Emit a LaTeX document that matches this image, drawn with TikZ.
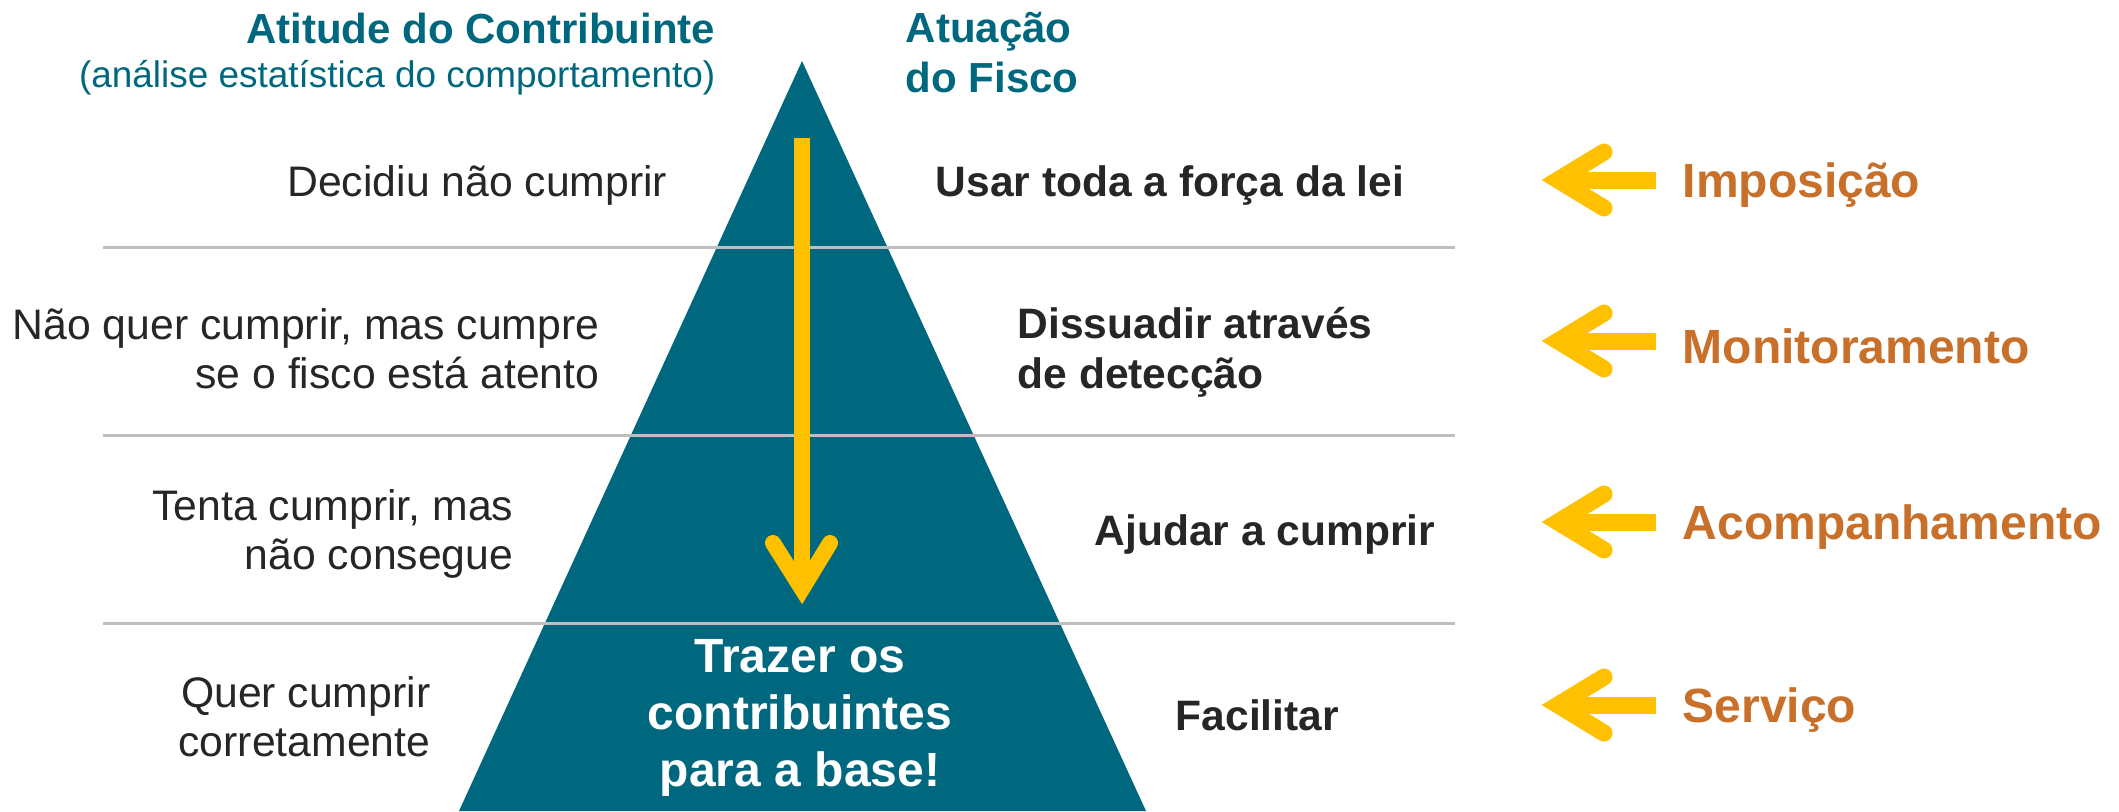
\documentclass[tikz,border=0pt]{standalone}
\usepackage{fontspec}
\setmainfont{Liberation Sans}
\usepackage{tikz}
\usetikzlibrary{positioning,calc}
\usepackage{xcolor}
\definecolor{fiscoteal}{HTML}{00687E}
\definecolor{arrowyellow}{HTML}{FFC000}
\definecolor{levelorange}{HTML}{C8702A}
\definecolor{textdark}{HTML}{262626}
\definecolor{linegray}{HTML}{BFBFBF}

\begin{document}
\begin{tikzpicture}[x=0.01cm,y=-0.01cm,
  attitude/.style={anchor=east, inner sep=0pt, align=right, text=textdark, font=\fontsize{12.15pt}{13.94pt}\selectfont},
  action/.style={anchor=west, inner sep=0pt, align=left, text=textdark, font=\bfseries\fontsize{12.1pt}{14.2pt}\selectfont},
  level/.style={anchor=west, inner sep=0pt, text=levelorange, font=\bfseries\fontsize{13.66pt}{16pt}\selectfont},
  header/.style={inner sep=0pt, text=fiscoteal, font=\bfseries\fontsize{11.95pt}{14.2pt}\selectfont},
  divider/.style={draw=linegray, line width=0.03cm},
  sidearrow/.style={draw=arrowyellow, line width=0.17cm}]
\useasboundingbox (0,0) rectangle (2119,811);

% pyramid
\coordinate (apex) at (802,61);
\coordinate (baseL) at (459,811);
\coordinate (baseR) at (1146,811);
\fill [fiscoteal] (apex) -- (baseL) -- (baseR) -- cycle;

% levels
\foreach \y/\n in {247/a,435/b,623/c} {
  \coordinate (div\n L) at (103,\y);
  \coordinate (div\n R) at (1455,\y);
  \draw [divider] (div\n L) -- (div\n R);
}

% arrow down the pyramid
\coordinate (shaftTop) at (802,138);
\coordinate (shaftTip) at (802,589);
\draw [arrowyellow, line width=0.16cm] (shaftTop) -- (shaftTip);
\draw [arrowyellow, line width=0.16cm, line cap=round, line join=miter] (773,543) -- (shaftTip) -- (830,543);

% headers
\node (attTitle) [header, anchor=east] at (716,28) {Atitude do Contribuinte};
\node (attSub) [header, anchor=east, font=\fontsize{10.5pt}{12pt}\selectfont] at (716,78) {(análise estatística do comportamento)};
\node (fisco) [header, anchor=west, align=left] at (905,53) {Atuação\\do Fisco};

% attitudes
\node (att1) [attitude] at (668,185) {Decidiu não cumprir};
\node (att2) [attitude] at (600,349) {Não quer cumprir, mas cumpre\\se o fisco está atento};
\node (att3) [attitude] at (514,534) {Tenta cumprir, mas\\não consegue};
\node (att4) [attitude] at (431,717) {Quer cumprir\\corretamente};

% actions
\node (act1) [action] at (935,185) {Usar toda a força da lei};
\node (act2) [action] at (1017,352) {Dissuadir através\\de detecção};
\node (act3) [action] at (1094,534) {Ajudar a cumprir};
\node (act4) [action] at (1175,715) {Facilitar};

\node (goal) [inner sep=0pt, align=center, text=white, font=\bfseries\fontsize{13.66pt}{16.2pt}\selectfont] at (800,718) {Trazer os\\contribuintes\\para a base!};

% right side levels
\foreach \y/\t in {180/Imposição,341/Monitoramento,522/Acompanhamento,705/Serviço} {
  \coordinate (tip) at (1558,\y);
  \draw [sidearrow] (tip) -- (1656,\y);
  \draw [sidearrow, line cap=round, line join=miter] (1604,\y-28) -- (tip) -- (1604,\y+28);
  \node [level] at (1682,\y+5) {\t};
}
\end{tikzpicture}
\end{document}
